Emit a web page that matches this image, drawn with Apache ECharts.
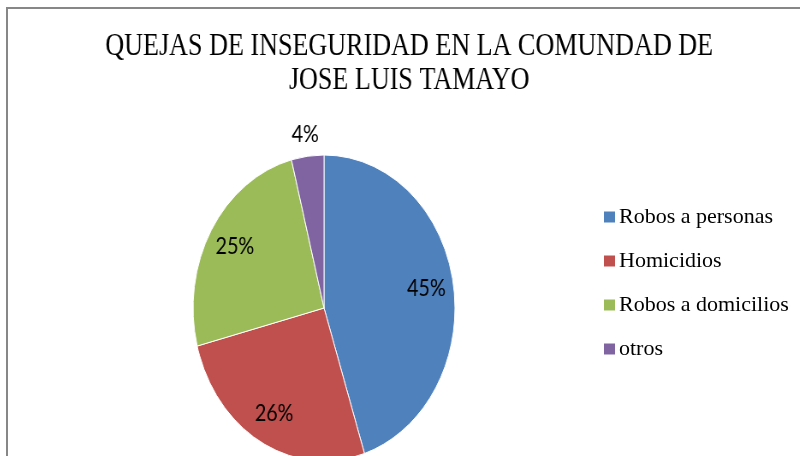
<!DOCTYPE html>
<html>
<head>
<meta charset="utf-8">
<script src="https://cdn.jsdelivr.net/npm/echarts/dist/echarts.min.js"></script>
<style>
html, body { margin: 0; padding: 0; background: #fff; overflow: hidden; }
#frame { position: relative; width: 800px; height: 456px; overflow: hidden; }
/* the original picture is squeezed sideways, so the pie chart is drawn wider and scaled back */
#pie { position: absolute; left: 9px; top: 0; width: 935px; height: 456px; transform: scaleX(0.856); transform-origin: 0 0; }
#leyenda { position: absolute; left: 0; top: 0; width: 800px; height: 456px; }
</style>
</head>
<body>
<div id="frame">
  <div id="pie"></div>
  <div id="leyenda"></div>
</div>
<script>
var categorias = ['Robos a personas', 'Homicidios', 'Robos a domicilios', 'otros'];
var porcentajes = [45, 26, 25, 4];
var colores = ['#4F81BD', '#C0504D', '#9BBB59', '#8064A2'];
var titulo = 'QUEJAS DE INSEGURIDAD EN LA COMUNDAD DE\nJOSE LUIS TAMAYO';

// labels of the big slices sit inside, the small one sits just outside the pie
var etiquetaFuera = [false, false, false, true];

function armarDatos(mostrar) {
    var res = [];
    for (var i = 0; i < categorias.length; i++) {
        res.push({
            name: categorias[i],
            value: porcentajes[i],
            label: { show: mostrar(i) }
        });
    }
    return res;
}

var etiqueta = {
    position: 'inside',
    formatter: '{c}%',
    color: '#000',
    fontFamily: 'Lato',
    fontSize: 23
};

var chartPie = echarts.init(document.getElementById('pie'));
chartPie.setOption({
    animation: false,
    color: colores,
    title: {
        text: titulo,
        left: 'center',
        top: 25,
        textStyle: {
            fontFamily: 'Liberation Serif',
            fontSize: 30.5,
            fontWeight: 'normal',
            color: '#000',
            lineHeight: 34
        }
    },
    series: [
        {
            type: 'pie',
            center: [368, 308],
            radius: 153,
            startAngle: 90,
            silent: true,
            label: { show: false },
            labelLine: { show: false },
            itemStyle: { borderColor: '#fff', borderWidth: 1 },
            data: armarDatos(function () { return false; })
        },
        {
            type: 'pie',
            center: [368, 308],
            radius: [83, 153],
            startAngle: 90,
            silent: true,
            itemStyle: { color: 'rgba(0,0,0,0)' },
            label: etiqueta,
            labelLine: { show: false },
            data: armarDatos(function (i) { return !etiquetaFuera[i]; })
        },
        {
            type: 'pie',
            center: [368, 308],
            radius: [156, 188],
            startAngle: 90,
            silent: true,
            itemStyle: { color: 'rgba(0,0,0,0)' },
            label: etiqueta,
            labelLine: { show: false },
            data: armarDatos(function (i) { return etiquetaFuera[i]; })
        }
    ]
});

var chartLeyenda = echarts.init(document.getElementById('leyenda'));
chartLeyenda.setOption({
    animation: false,
    color: colores,
    graphic: [{
        type: 'rect',
        shape: { x: 7, y: 8, width: 1000, height: 1000 },
        style: { fill: 'none', stroke: '#878787', lineWidth: 2 },
        silent: true
    }],
    legend: {
        orient: 'vertical',
        left: 599,
        top: 201,
        icon: 'rect',
        itemWidth: 11,
        itemHeight: 11,
        itemGap: 22,
        padding: 5,
        textStyle: {
            fontFamily: 'Liberation Serif',
            fontSize: 22,
            lineHeight: 22,
            color: '#000',
            padding: [0, 0, 0, -1]
        },
        data: categorias
    },
    series: [{
        // only feeds the legend; the visible pie lives in the other chart
        type: 'pie',
        radius: 0,
        silent: true,
        label: { show: false },
        labelLine: { show: false },
        data: armarDatos(function () { return false; })
    }]
});
</script>
</body>
</html>
